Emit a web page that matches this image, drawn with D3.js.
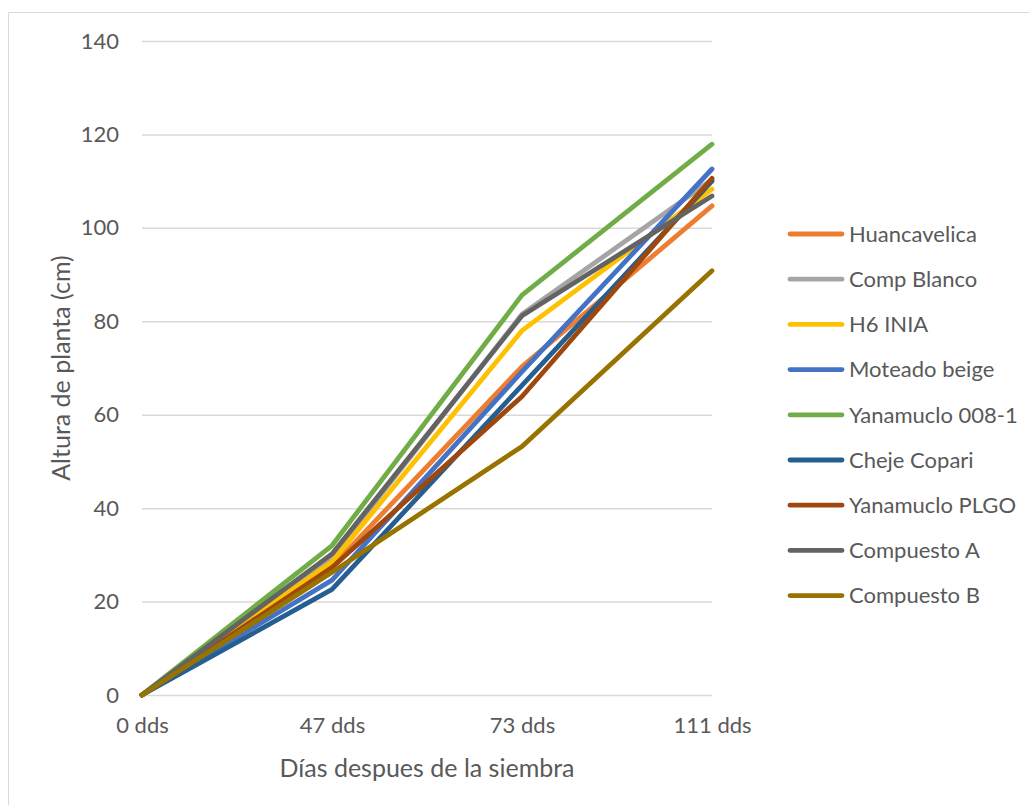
<!DOCTYPE html>
<html>
<head>
<meta charset="utf-8">
<script src="https://cdn.jsdelivr.net/npm/d3@7/dist/d3.min.js"></script>
<style>
  html, body { margin: 0; padding: 0; background: #fff; }
  svg { display: block; }
  text { font-family: Lato, "Open Sans", sans-serif; fill: #595959; }
</style>
</head>
<body>
<svg id="chart" width="1029" height="805"></svg>
<script>
// Sampling days (x categories)
const categories = ["0 dds", "47 dds", "73 dds", "111 dds"];

// Y axis ticks
const yTicks = [0, 20, 40, 60, 80, 100, 120, 140];

// Plant height (cm) per variety
const seriesNames = [
  "Huancavelica", "Comp Blanco", "H6 INIA", "Moteado beige", "Yanamuclo 008-1",
  "Cheje Copari", "Yanamuclo PLGO", "Compuesto A", "Compuesto B"
];
const huancavelica  = [0, 27.5, 70.3, 104.7];
const compBlanco    = [0, 29.5, 81.5, 110.3];
const h6Inia        = [0, 28.5, 78.0, 108.3];
const moteadoBeige  = [0, 24.6, 69.2, 112.6];
const yanamuclo0081 = [0, 32.0, 85.6, 117.9];
const chejeCopari   = [0, 22.6, 66.3, 110.0];
const yanamucloPlgo = [0, 27.3, 63.9, 110.6];
const compuestoA    = [0, 30.2, 81.2, 106.8];
const compuestoB    = [0, 26.3, 53.2, 90.8];

const seriesValues = [huancavelica, compBlanco, h6Inia, moteadoBeige, yanamuclo0081,
                      chejeCopari, yanamucloPlgo, compuestoA, compuestoB];
const seriesColors = ["#ED7D31", "#A5A5A5", "#FFC000", "#4472C4", "#70AD47",
                      "#255E91", "#9E480E", "#636363", "#997300"];

const svg = d3.select("#chart");

// Chart frame (top and left edges visible)
svg.append("line").attr("x1", 8.5).attr("x2", 1029).attr("y1", 12.5).attr("y2", 12.5)
  .attr("stroke", "#D9D9D9").attr("stroke-width", 1);
svg.append("line").attr("x1", 8.5).attr("x2", 8.5).attr("y1", 12.5).attr("y2", 805)
  .attr("stroke", "#D9D9D9").attr("stroke-width", 1);

const plot = { left: 142, right: 712, top: 41, bottom: 695 };

const x = d3.scalePoint().domain(categories).range([plot.left, plot.right]).padding(0);
const y = d3.scaleLinear().domain([0, 140]).range([plot.bottom, plot.top]);

// Gridlines + y labels
const yAxis = d3.axisLeft(y).tickValues(yTicks).tickSize(-(plot.right - plot.left)).tickPadding(23);
const gy = svg.append("g").attr("transform", `translate(${plot.left},0)`).call(yAxis);
gy.select(".domain").remove();
gy.selectAll(".tick line").attr("stroke", "#D9D9D9").attr("stroke-width", 1.5);
gy.selectAll(".tick text").attr("font-size", 22).style("fill", "#595959")
  .style("font-family", "Lato, 'Open Sans', sans-serif");

// X labels
const xAxis = d3.axisBottom(x).tickSize(0).tickPadding(22);
const gx = svg.append("g").attr("transform", `translate(0,${plot.bottom})`).call(xAxis);
gx.select(".domain").remove();
gx.selectAll(".tick text").attr("font-size", 22).style("fill", "#595959")
  .style("font-family", "Lato, 'Open Sans', sans-serif");

// Series lines
const line = d3.line().x((d, i) => x(categories[i])).y(d => y(d));
seriesValues.forEach((vals, i) => {
  svg.append("path")
    .attr("d", line(vals))
    .attr("fill", "none")
    .attr("stroke", seriesColors[i])
    .attr("stroke-width", 4.8)
    .attr("stroke-linejoin", "round")
    .attr("stroke-linecap", "round");
});

// Axis titles
svg.append("text")
  .attr("x", (plot.left + plot.right) / 2)
  .attr("y", 777)
  .attr("text-anchor", "middle")
  .attr("font-size", 25)
  .text("Días despues de la siembra");

svg.append("text")
  .attr("transform", `translate(70,${(plot.top + plot.bottom) / 2}) rotate(-90)`)
  .attr("text-anchor", "middle")
  .attr("font-size", 25)
  .text("Altura de planta (cm)");

// Legend
const legend = svg.append("g");
seriesNames.forEach((name, i) => {
  const yy = 234 + i * 45.2;
  legend.append("line")
    .attr("x1", 790).attr("x2", 842).attr("y1", yy).attr("y2", yy)
    .attr("stroke", seriesColors[i]).attr("stroke-width", 4.8).attr("stroke-linecap", "round");
  legend.append("text")
    .attr("x", 849).attr("y", yy).attr("dy", "0.35em")
    .attr("font-size", 22)
    .text(name);
});
</script>
</body>
</html>
